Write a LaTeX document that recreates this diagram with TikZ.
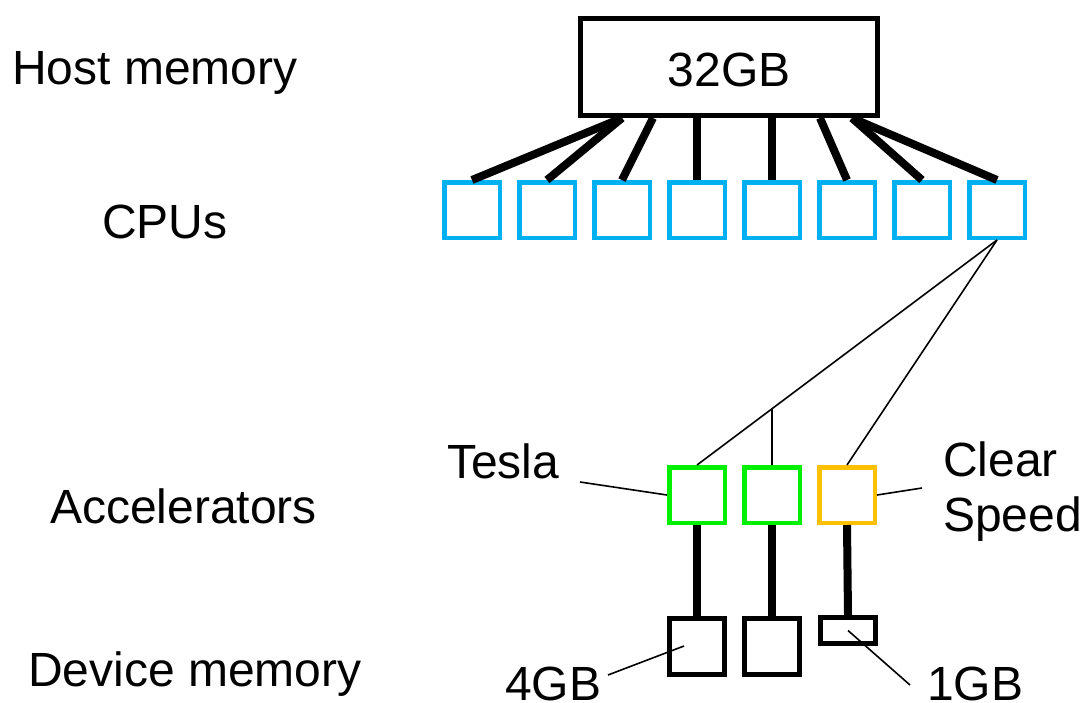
\documentclass[tikz,border=0pt]{standalone}
\usepackage{fontspec}
\setmainfont{Liberation Sans}
\definecolor{cpucol}{HTML}{00B0F0}
\definecolor{teslacol}{HTML}{00F000}
\definecolor{cscol}{HTML}{FFC000}
\begin{document}
\begin{tikzpicture}[x=1pt,y=-1pt,
  lbl/.style={font=\fontsize{48}{55}\selectfont, inner sep=0pt},
  memb/.style={draw=black, line width=5pt, minimum width=55pt, minimum height=56pt, inner sep=0pt},
  cpub/.style={draw=cpucol, line width=4.5pt, minimum width=55.5pt, minimum height=55.5pt, inner sep=0pt},
  gpub/.style={draw=teslacol, line width=4.5pt, minimum width=55.5pt, minimum height=55.5pt, inner sep=0pt},
  csb/.style={draw=cscol, line width=4.5pt, minimum width=55.5pt, minimum height=55.5pt, inner sep=0pt},
  bus/.style={line width=8pt},
  thin/.style={line width=1.6pt}]
\useasboundingbox (0,0) rectangle (1084,702);

% left labels
\node[lbl, anchor=base west] (lhost) at (12,84) {Host memory};
\node[lbl, anchor=base west] (lcpu) at (102,238) {CPUs};
\node[lbl, anchor=base west] (lacc) at (50,523) {Accelerators};
\node[lbl, anchor=base west] (ldev) at (28,686) {Device memory};

% host memory
\node[draw, line width=5pt, minimum width=297pt, minimum height=97pt, inner sep=0pt] (host) at (729,67) {};
\node[lbl, anchor=base] (hosttxt) at (729,86) {32GB};

% CPUs
\foreach \i/\x in {1/472,2/547,3/622,4/697,5/772,6/847,7/922,8/997}
  \node[cpub] (c\i) at (\x,210) {};

\coordinate (h1) at ([xshift=-107pt]host.south);
\coordinate (h3) at ([xshift=-76pt]host.south);
\coordinate (h6) at ([xshift=91pt]host.south);
\coordinate (h7) at ([xshift=123pt]host.south);

\draw[bus] (h1) -- (c1.north);
\draw[bus] (h1) -- (c2.north);
\draw[bus] (h3) -- (c3.north);
\draw[bus] (c4.north |- host.south) -- (c4.north);
\draw[bus] (c5.north |- host.south) -- (c5.north);
\draw[bus] (h6) -- (c6.north);
\draw[bus] (h7) -- (c7.north);
\draw[bus] (h7) -- (c8.north);

% accelerators
\node[gpub] (a1) at (697,495) {};
\node[gpub] (a2) at (772,495) {};
\node[csb] (a3) at (847,495) {};

\draw[thin] (c8.south) -- (a1.north);
\draw[thin] (c8.south) -- (a3.north);
\coordinate (br) at (intersection of c8.south--a1.north and a2.north--a2.south);
\draw[thin] (br) -- (a2.north);

% accelerator labels
\node[lbl, anchor=base west] (tesla) at (447,478) {Tesla};
\coordinate (tl) at (580,482);
\draw[thin] (tl) -- (a1.west);
\node[lbl, anchor=west, align=left] (cs) at (943,492) {Clear\\Speed};
\coordinate (cl) at (922,488);
\draw[thin] (a3.east) -- (cl);

% device memory
\node[memb] (d1) at (697,646) {};
\node[memb] (d2) at (772,646) {};
\node[memb, minimum height=26pt] (d3) at (848,630.5) {};

\draw[bus] (a1.south) -- (d1.north);
\draw[bus] (a2.south) -- (d2.north);
\draw[bus] (a3.south) -- (d3.north);

\node[lbl, anchor=base west] (g4) at (505,700) {4GB};
\node[lbl, anchor=base west] (g1) at (927,700) {1GB};
\coordinate (g4l) at (608,675);
\coordinate (g4r) at ([xshift=-13pt]d1.center);
\draw[thin] (g4l) -- (g4r);
\coordinate (g1l) at (910,685);
\draw[thin] (d3.center) -- (g1l);
\end{tikzpicture}
\end{document}
